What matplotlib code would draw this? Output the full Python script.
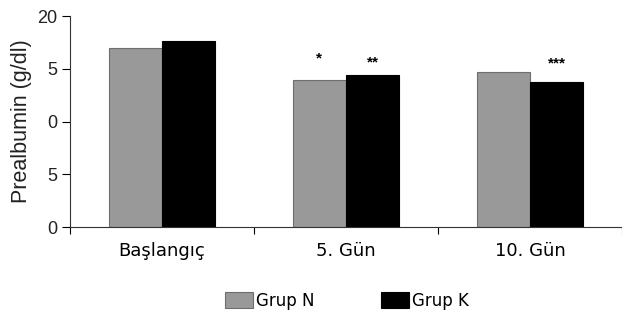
import numpy as np
import matplotlib.pyplot as plt

groups = ['Başlangıç', '5. Gün', '10. Gün']
grup_n = [17.0, 13.9, 14.7]
grup_k = [17.6, 14.4, 13.7]
stars_n = ['', '*', '']
stars_k = ['', '**', '***']
star_y_n = [0, 16.0, 0]
star_y_k = [0, 15.6, 15.5]
ytick_vals = [0, 5, 10, 15, 20]
ytick_labels = ['0', '5', '0', '5', '20']

fig = plt.figure(figsize=(6.22, 3.22), dpi=100)
ax = fig.add_axes([70 / 622, 1 - 227 / 322, 552 / 622, 211 / 322])

x = np.arange(len(groups))
w = 0.29
ax.bar(x - w / 2, grup_n, w, color='#999999', edgecolor='#6e6e6e', linewidth=0.8, label='Grup N')
ax.bar(x + w / 2, grup_k, w, color='black', edgecolor='black', linewidth=0.8, label='Grup K')

for i in range(len(groups)):
    if stars_n[i]:
        ax.text(x[i] - w / 2, star_y_n[i], stars_n[i], ha='center', va='center',
                fontsize=11, family='Liberation Sans', fontweight='bold')
    if stars_k[i]:
        ax.text(x[i] + w / 2, star_y_k[i], stars_k[i], ha='center', va='center',
                fontsize=11, family='Liberation Sans', fontweight='bold')

ax.set_xlim(-0.5, 2.5)
ax.set_ylim(0, 20)
ax.set_yticks(ytick_vals)
ax.set_yticklabels(ytick_labels, fontsize=13, family='Liberation Sans', color='#222222')
ax.set_xticks([-0.5, 0.5, 1.5, 2.5])
ax.set_xticklabels([])
ax.set_xticks(x, minor=True)
ax.set_xticklabels(groups, minor=True, fontsize=13)
ax.tick_params(axis='x', which='minor', length=0, pad=11)
ax.tick_params(axis='x', which='major', length=5, direction='out')
ax.tick_params(axis='y', length=6, direction='out', pad=3)
ax.set_ylabel('Prealbumin (g/dl)', fontsize=15.5, family='Liberation Sans',
              labelpad=4, color='#222222')

for s in ['top', 'right']:
    ax.spines[s].set_visible(False)
for s in ['left', 'bottom']:
    ax.spines[s].set_color('#333333')

fig.legend(loc='lower left', bbox_to_anchor=(225 / 622, 12 / 322), ncol=2, frameon=False,
           fontsize=12, handlelength=1.7, handleheight=1.1, handletextpad=0.15,
           columnspacing=4.0, borderpad=0, borderaxespad=0)

fig.savefig('out.png', dpi=100)
